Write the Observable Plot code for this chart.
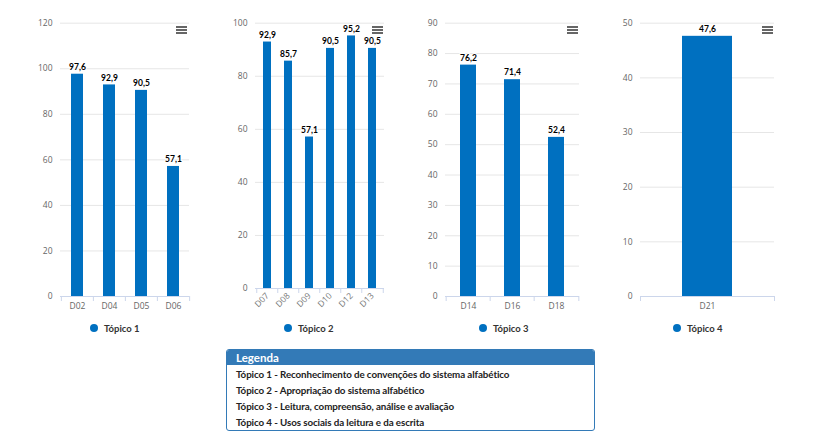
<!DOCTYPE html>
<html>
<head>
<meta charset="utf-8">
<script src="https://cdn.jsdelivr.net/npm/d3@7"></script>
<script src="https://cdn.jsdelivr.net/npm/@observablehq/plot@0.6"></script>
<style>
  html, body { margin: 0; padding: 0; background: #fff; }
  #page { position: relative; width: 827px; height: 440px; overflow: hidden; font-family: Lato, "Open Sans", sans-serif; }
  .chart { position: absolute; top: 0; }
  .menu { position: absolute; width: 11px; height: 9px; }
  .menu span { position: absolute; left: 0; width: 11px; height: 2px; background: #666; }
  .lg { position: absolute; top: 322px; height: 12px; display: flex; align-items: center; font-weight: 700; font-size: 9.5px; color: #333; white-space: nowrap; }
  .lg i { display: inline-block; width: 8px; height: 8px; border-radius: 50%; background: #0070c0; margin-right: 6px; }
  #legend { position: absolute; left: 226px; top: 349px; width: 369px; height: 82px; border: 1px solid #337ab7; border-radius: 3px; box-sizing: border-box; overflow: hidden; }
  #legend .hd { background: #337ab7; color: #fff; font-weight: 700; font-size: 11.5px; height: 15px; line-height: 15px; padding-left: 9px; margin-bottom: 1px; }
  #legend .row { font-weight: 700; font-size: 9.8px; color: #222; height: 16px; line-height: 16px; padding-left: 9px; white-space: nowrap; letter-spacing: -0.1px; }
</style>
</head>
<body>
<div id="page"></div>
<script>
// ---- data ----
const cats1 = ["D02", "D04", "D05", "D06"];
const vals1 = [97.6, 92.9, 90.5, 57.1];
const yTicks1 = [0, 20, 40, 60, 80, 100, 120];

const cats2 = ["D07", "D08", "D09", "D10", "D12", "D13"];
const vals2 = [92.9, 85.7, 57.1, 90.5, 95.2, 90.5];
const yTicks2 = [0, 20, 40, 60, 80, 100];

const cats3 = ["D14", "D16", "D18"];
const vals3 = [76.2, 71.4, 52.4];
const yTicks3 = [0, 10, 20, 30, 40, 50, 60, 70, 80, 90];

const cats4 = ["D21"];
const vals4 = [47.6];
const yTicks4 = [0, 10, 20, 30, 40, 50];

const topicNames = ["Tópico 1", "Tópico 2", "Tópico 3", "Tópico 4"];
const legendTitle = "Legenda";
const legendRows = [
  "Tópico 1 - Reconhecimento de convenções do sistema alfabético",
  "Tópico 2 - Apropriação do sistema alfabético",
  "Tópico 3 - Leitura, compreensão, análise e avaliação",
  "Tópico 4 - Usos sociais da leitura e da escrita"
];

// ---- layout ----
const BAR = "#0070c0";
const page = document.getElementById("page");
const fmt = v => v.toFixed(1).replace(".", ",");

const specs = [
  {cats: cats1, vals: vals1, ticks: yTicks1, left: 0,   width: 200, ml: 60, mr: 11, mb: 24, rotate: 0,   menuX: 176, lgX: 90},
  {cats: cats2, vals: vals2, ticks: yTicks2, left: 200, width: 200, ml: 55, mr: 16, mb: 32, rotate: -45, menuX: 372, lgX: 284},
  {cats: cats3, vals: vals3, ticks: yTicks3, left: 400, width: 200, ml: 45, mr: 21, mb: 24, rotate: 0,   menuX: 567, lgX: 479},
  {cats: cats4, vals: vals4, ticks: yTicks4, left: 600, width: 227, ml: 40, mr: 53, mb: 24, rotate: 0,   menuX: 762, lgX: 673}
];

const H = 320, MT = 22.7;

specs.forEach((s, k) => {
  const data = s.cats.map((c, i) => ({cat: c, val: s.vals[i]}));
  const plotW = s.width - s.ml - s.mr;
  const plotH = H - MT - s.mb;
  const step = plotW / s.cats.length;
  const yMax = s.ticks[s.ticks.length - 1];
  const chart = Plot.plot({
    width: s.width,
    height: H,
    marginLeft: s.ml,
    marginRight: s.mr,
    marginTop: MT,
    marginBottom: s.mb,
    style: {fontFamily: "'Open Sans', sans-serif", background: "transparent", overflow: "visible"},
    x: {domain: s.cats, paddingInner: 0.63, paddingOuter: 0.315, align: 0.5, label: null},
    y: {domain: [0, yMax], label: null},
    marks: [
      Plot.gridY(s.ticks, {stroke: "#e6e6e6", strokeOpacity: 1}),
      Plot.axisY({ticks: s.ticks, tickSize: 0, tickPadding: 8, fontSize: 8.5, fill: "#666", label: null}),
      s.rotate
        ? Plot.axisX({tickSize: 0, tickPadding: 6, tickRotate: s.rotate, fontSize: 8.5, fill: "#777", label: null})
        : Plot.axisX({tickSize: 0, tickPadding: 6.5, fontSize: 8.5, fill: "#666", label: null}),
      Plot.barY(data, {x: "cat", y: "val", fill: BAR}),
      Plot.ruleY([0], {stroke: "#ccd6eb"}),
      Plot.ruleX(s.cats, {x: d => d, dx: -step / 2, stroke: "#ccd6eb", insetTop: plotH, insetBottom: -5}),
      Plot.ruleX(s.cats.slice(-1), {x: d => d, dx: step / 2, stroke: "#ccd6eb", insetTop: plotH, insetBottom: -5}),
      Plot.text(data, {x: "cat", y: "val", text: d => fmt(d.val), dy: -7, fontSize: 8.5, fontWeight: "bold", fill: "#000",
        fontFamily: "Lato, sans-serif", stroke: "#fff", strokeWidth: 2, paintOrder: "stroke", lineAnchor: "middle"})
    ]
  });
  chart.classList.add("chart");
  chart.style.left = s.left + "px";
  page.appendChild(chart);

  const menu = document.createElement("div");
  menu.className = "menu";
  menu.style.left = s.menuX + "px";
  menu.style.top = "25.7px";
  menu.innerHTML = '<span style="top:0"></span><span style="top:3.4px"></span><span style="top:6.8px"></span>';
  page.appendChild(menu);

  const lg = document.createElement("div");
  lg.className = "lg";
  lg.style.left = s.lgX + "px";
  lg.innerHTML = "<i></i>" + topicNames[k];
  page.appendChild(lg);
});

const box = document.createElement("div");
box.id = "legend";
box.innerHTML = '<div class="hd">' + legendTitle + '</div>' + legendRows.map(r => '<div class="row">' + r + '</div>').join("");
page.appendChild(box);
</script>
</body>
</html>
